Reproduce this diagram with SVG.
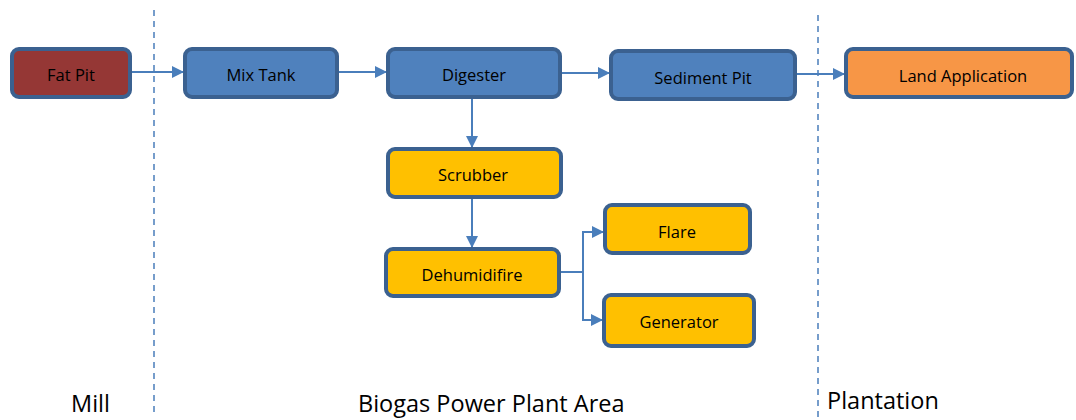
<svg xmlns="http://www.w3.org/2000/svg" width="1076" height="420" viewBox="0 0 1076 420">
<style>
.box{stroke:#3B6190;stroke-width:4;}
.blue{fill:#4F81BD;}
.red{fill:#953735;}
.orange{fill:#F79646;}
.yellow{fill:#FFC000;}
.lbl{font-family:"Open Sans","Liberation Sans",sans-serif;font-size:16.5px;fill:#000;text-anchor:middle;dominant-baseline:central;}
.area{font-family:"Open Sans","Liberation Sans",sans-serif;font-size:23.5px;fill:#000;}
.conn{stroke:#4A7EBB;stroke-width:2;fill:none;}
.div{stroke:#4A7EBB;stroke-width:1.5;stroke-dasharray:6,5;fill:none;}
</style>
<defs>
<marker id="arr" markerWidth="12" markerHeight="12" refX="11" refY="6" orient="auto" markerUnits="userSpaceOnUse">
<path d="M0,0 L12,6 L0,12 z" fill="#4A7EBB"/>
</marker>
</defs>
<g id="dividers">
<line class="div" x1="154" y1="10" x2="154" y2="414"/>
<line class="div" x1="818" y1="15" x2="818" y2="420"/>
</g>
<g id="connectors">
<line class="conn" x1="132" y1="72" x2="183" y2="72" marker-end="url(#arr)"/>
<line class="conn" x1="339" y1="72" x2="386" y2="72" marker-end="url(#arr)"/>
<line class="conn" x1="562" y1="73" x2="609" y2="73" marker-end="url(#arr)"/>
<line class="conn" x1="797" y1="74" x2="844" y2="74" marker-end="url(#arr)"/>
<line class="conn" x1="472" y1="99" x2="472" y2="147" marker-end="url(#arr)"/>
<line class="conn" x1="472" y1="199" x2="472" y2="247" marker-end="url(#arr)"/>
<polyline class="conn" points="561,272 583,272 583,232 603,232" marker-end="url(#arr)"/>
<polyline class="conn" points="583,272 583,320 602,320" marker-end="url(#arr)"/>
</g>
<g id="fat-pit">
<rect class="box red" x="12" y="49" width="118" height="48" rx="7"/>
<text class="lbl" x="71" y="74">Fat Pit</text>
</g>
<g id="mix-tank">
<rect class="box blue" x="185" y="49" width="152" height="48" rx="7"/>
<text class="lbl" x="261" y="74">Mix Tank</text>
</g>
<g id="digester">
<rect class="box blue" x="388" y="49" width="172" height="48" rx="7"/>
<text class="lbl" x="474" y="74">Digester</text>
</g>
<g id="sediment-pit">
<rect class="box blue" x="611" y="51" width="184" height="48" rx="7"/>
<text class="lbl" x="703" y="77">Sediment Pit</text>
</g>
<g id="land-application">
<rect class="box orange" x="846" y="49" width="226" height="48" rx="7"/>
<text class="lbl" x="963" y="75">Land Application</text>
</g>
<g id="scrubber">
<rect class="box yellow" x="388" y="149" width="173" height="48" rx="7"/>
<text class="lbl" x="473" y="174">Scrubber</text>
</g>
<g id="dehumidifire">
<rect class="box yellow" x="386" y="249" width="173" height="47" rx="7"/>
<text class="lbl" x="472" y="274">Dehumidifire</text>
</g>
<g id="flare">
<rect class="box yellow" x="605" y="205" width="145" height="48" rx="7"/>
<text class="lbl" x="677" y="231">Flare</text>
</g>
<g id="generator">
<rect class="box yellow" x="604" y="295" width="150" height="51" rx="7"/>
<text class="lbl" x="679" y="321">Generator</text>
</g>
<g id="areas">
<text class="area" x="71" y="412">Mill</text>
<text class="area" x="358" y="412">Biogas Power Plant Area</text>
<text class="area" x="827" y="409">Plantation</text>
</g>
</svg>
